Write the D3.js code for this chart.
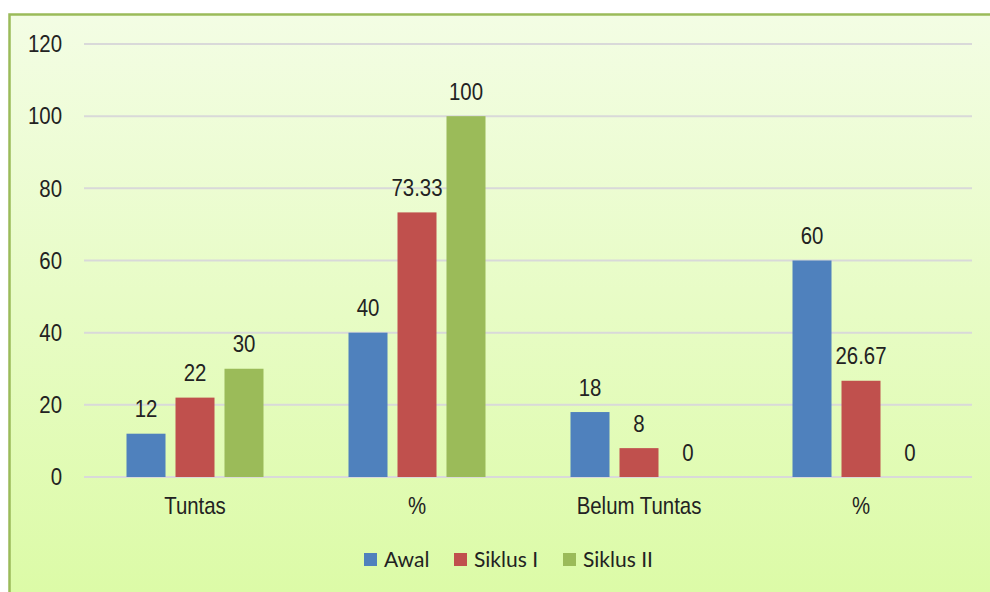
<!DOCTYPE html>
<meta charset="utf-8">
<style>
  body { margin: 0; background: #fff; }
  .tick text, .lbl, .cat { font-family: "Liberation Sans", Arial, sans-serif; fill: #222; }
  .leg { font-family: Lato, "Open Sans", sans-serif; fill: #222; }
</style>
<body>
<script src="https://d3js.org/d3.v7.min.js"></script>
<script>
var categories = ["Tuntas", "%", "Belum Tuntas", "%"];
var seriesNames = ["Awal", "Siklus I", "Siklus II"];
var awal = [12, 40, 18, 60];
var siklus1 = [22, 73.33, 8, 26.67];
var siklus2 = [30, 100, 0, 0];
var yTicks = [0, 20, 40, 60, 80, 100, 120];
var colors = ["#4f81bd", "#c0504d", "#9bbb59"];

var W = 990, H = 592;
var narrow = 0.85; // squeeze text like Arial Narrow
var svg = d3.select("body").append("svg").attr("width", W).attr("height", H);

// background gradient + frame
var grad = svg.append("defs").append("linearGradient")
  .attr("id", "bg").attr("x1", 0).attr("y1", 0).attr("x2", 0).attr("y2", 1);
grad.append("stop").attr("offset", "0%").attr("stop-color", "#f3fde4");
grad.append("stop").attr("offset", "100%").attr("stop-color", "#dcfba7");
svg.append("rect").attr("x", 9).attr("y", 14).attr("width", W - 9).attr("height", H - 14).attr("fill", "url(#bg)");
svg.append("path").attr("d", "M9.5," + H + "V14.5H" + W)
  .attr("fill", "none").attr("stroke", "#9bbb59").attr("stroke-width", 2.5);

var x0 = d3.scaleBand().domain(d3.range(categories.length)).range([84, 972]);
var x1 = d3.scaleBand().domain(d3.range(seriesNames.length)).range([0, 137]).paddingInner(0.204);
var y = d3.scaleLinear().domain([0, 120]).range([477, 44]);

// gridlines
svg.append("g").selectAll("line").data(yTicks).join("line")
  .attr("x1", 84).attr("x2", 972)
  .attr("y1", function(d) { return y(d); }).attr("y2", function(d) { return y(d); })
  .attr("stroke", "#d9d9d9").attr("stroke-width", 2);

var yAxis = svg.append("g").attr("transform", "translate(62,0)")
  .call(d3.axisLeft(y).tickValues(yTicks).tickSize(0).tickPadding(0));
yAxis.select(".domain").remove();
yAxis.selectAll("text").attr("x", 0).attr("transform", "scale(" + narrow + ",1)").style("font-size", "24px");

var series = [awal, siklus1, siklus2];
var data = [];
series.forEach(function(s, j) {
  s.forEach(function(v, i) { data.push({ i: i, j: j, v: v }); });
});

function bx(d) { return x0(d.i) + (x0.bandwidth() - 137) / 2 + x1(d.j); }

svg.append("g").selectAll("rect").data(data.filter(function(d) { return d.v > 0; })).join("rect")
  .attr("x", bx)
  .attr("y", function(d) { return y(d.v); })
  .attr("width", x1.bandwidth())
  .attr("height", function(d) { return y(0) - y(d.v); })
  .attr("fill", function(d) { return colors[d.j]; });

svg.append("g").selectAll("text").data(data).join("text")
  .attr("class", "lbl")
  .attr("transform", function(d) {
    return "translate(" + (bx(d) + x1.bandwidth() / 2) + "," + (y(d.v) - 16.5) + ") scale(" + narrow + ",1)";
  })
  .attr("text-anchor", "middle")
  .style("font-size", "24px")
  .text(function(d) { return d.v; });

svg.append("g").selectAll("text").data(categories).join("text")
  .attr("class", "cat")
  .attr("transform", function(d, i) {
    return "translate(" + (x0(i) + x0.bandwidth() / 2) + ",514) scale(" + narrow + ",1)";
  })
  .attr("text-anchor", "middle")
  .style("font-size", "24px")
  .text(function(d) { return d; });

// legend
var legX = [364, 454, 563];
var leg = svg.append("g").selectAll("g").data(seriesNames).join("g")
  .attr("transform", function(d, i) { return "translate(" + legX[i] + ",553)"; });
leg.append("rect").attr("width", 13).attr("height", 13).attr("fill", function(d, i) { return colors[i]; });
leg.append("text").attr("class", "leg").attr("x", 20).attr("y", 14)
  .style("font-size", "21px").text(function(d) { return d; });
</script>
